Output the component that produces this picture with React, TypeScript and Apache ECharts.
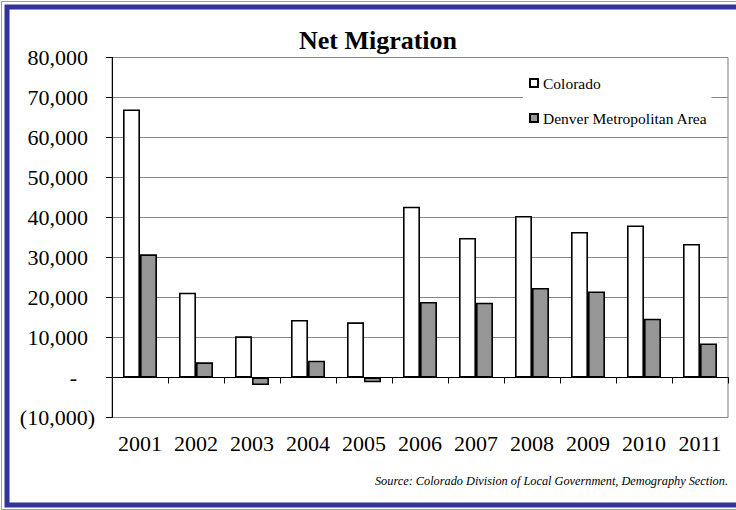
import React, { useEffect, useRef } from "react";
import * as echarts from "echarts";

// Net migration by year, Colorado vs. Denver metro
const years = ["2001", "2002", "2003", "2004", "2005", "2006", "2007", "2008", "2009", "2010", "2011"];
const colorado = [67000, 21200, 10300, 14400, 13800, 42700, 34900, 40400, 36400, 38000, 33400];
const denver = [30800, 3800, -1900, 4200, -1200, 18900, 18700, 22400, 21500, 14700, 8500];
const seriesNames = ["Colorado", "Denver Metropolitan Area"];
const titleText = "Net Migration";
const sourceText = "Source: Colorado Division of Local Government, Demography Section.";

const SERIF = "'Liberation Serif', 'Times New Roman', serif";

// value range of the y axis; the category axis sits on the zero line
const Y_MIN = -10000;
const Y_MAX = 80000;
const GRID_TOP = 57.5;
const GRID_BOTTOM = 92.5;
const PLOT_H = 510 - GRID_TOP - GRID_BOTTOM;
const ZERO_OFFSET = (PLOT_H * (0 - Y_MIN)) / (Y_MAX - Y_MIN);

const fmt = (v: number) => v.toLocaleString("en-US");

export default function App() {
  const ref = useRef<HTMLDivElement>(null);

  useEffect(() => {
    if (!ref.current) return;
    const chart = echarts.init(ref.current, null, { renderer: "svg" });
    chart.setOption({
      animation: false,
      backgroundColor: "#fff",
      grid: {
        left: 112,
        right: 8,
        top: GRID_TOP,
        bottom: GRID_BOTTOM,
        show: true,
        borderColor: "#7a7a7a",
        borderWidth: 1,
      },
      legend: {
        orient: "vertical",
        left: 523,
        top: 67,
        padding: [8, 4, 8, 6],
        backgroundColor: "#fff",
        icon: "rect",
        itemWidth: 8,
        itemHeight: 8,
        itemGap: 19,
        data: seriesNames,
        textStyle: { fontFamily: SERIF, fontSize: 15.5, color: "#000" },
      },
      xAxis: {
        type: "category",
        data: years,
        boundaryGap: true,
        position: "bottom",
        offset: -ZERO_OFFSET,
        axisLine: { onZero: false, lineStyle: { color: "#000", width: 1 } },
        axisTick: { show: true, length: 6, inside: false, alignWithLabel: false, lineStyle: { color: "#000" } },
        axisLabel: { interval: 0, margin: 15 + ZERO_OFFSET, fontFamily: SERIF, fontSize: 22, color: "#000" },
        splitLine: { show: false },
        z: 3,
      },
      yAxis: {
        type: "value",
        min: Y_MIN,
        max: Y_MAX,
        interval: 10000,
        axisLine: { show: true, lineStyle: { color: "#000", width: 1 } },
        axisTick: { show: true, length: 6, lineStyle: { color: "#000" } },
        splitLine: { show: true, lineStyle: { color: "#868686", width: 1 } },
        axisLabel: {
          margin: 17,
          fontFamily: SERIF,
          fontSize: 22,
          color: "#000",
          formatter: (v: number) =>
            v === 0 ? "{d|-}" : v < 0 ? `(${fmt(-v)})` : `{n|${fmt(v)}}`,
          rich: {
            n: { fontFamily: SERIF, fontSize: 22, color: "#000", padding: [0, 7, 0, 0] },
            d: { fontFamily: SERIF, fontSize: 22, color: "#000", padding: [0, 18, 0, 0] },
          },
        },
      },
      series: [
        {
          name: seriesNames[0],
          type: "bar",
          data: colorado,
          barWidth: 17,
          barGap: "0%",
          itemStyle: { color: "#fff", borderColor: "#000", borderWidth: 1.6 },
        },
        {
          name: seriesNames[1],
          type: "bar",
          data: denver,
          barWidth: 17,
          barGap: "0%",
          itemStyle: { color: "#969696", borderColor: "#000", borderWidth: 1.6 },
        },
      ],
      graphic: [
        {
          type: "rect",
          silent: true,
          shape: { x: 1.5, y: 1.5, width: 760, height: 508 },
          style: { fill: "none", stroke: "#9a9ad2", lineWidth: 1 },
        },
        {
          type: "rect",
          silent: true,
          shape: { x: 7, y: 7, width: 760, height: 498 },
          style: { fill: "none", stroke: "#333399", lineWidth: 5 },
        },
        {
          type: "text",
          x: 378,
          y: 40,
          style: {
            text: titleText,
            fontFamily: SERIF,
            fontSize: 26,
            fontWeight: "bold",
            fill: "#000",
            align: "center",
            verticalAlign: "middle",
          },
        },
        {
          type: "text",
          x: 728,
          y: 481,
          style: {
            text: sourceText,
            fontFamily: SERIF,
            fontSize: 12.3,
            fontStyle: "italic",
            fill: "#000",
            align: "right",
            verticalAlign: "middle",
          },
        },
      ],
    });
    return () => chart.dispose();
  }, []);

  return (
    <div
      ref={ref}
      style={{ position: "absolute", left: 0, top: 0, width: 736, height: 510 }}
    />
  );
}
